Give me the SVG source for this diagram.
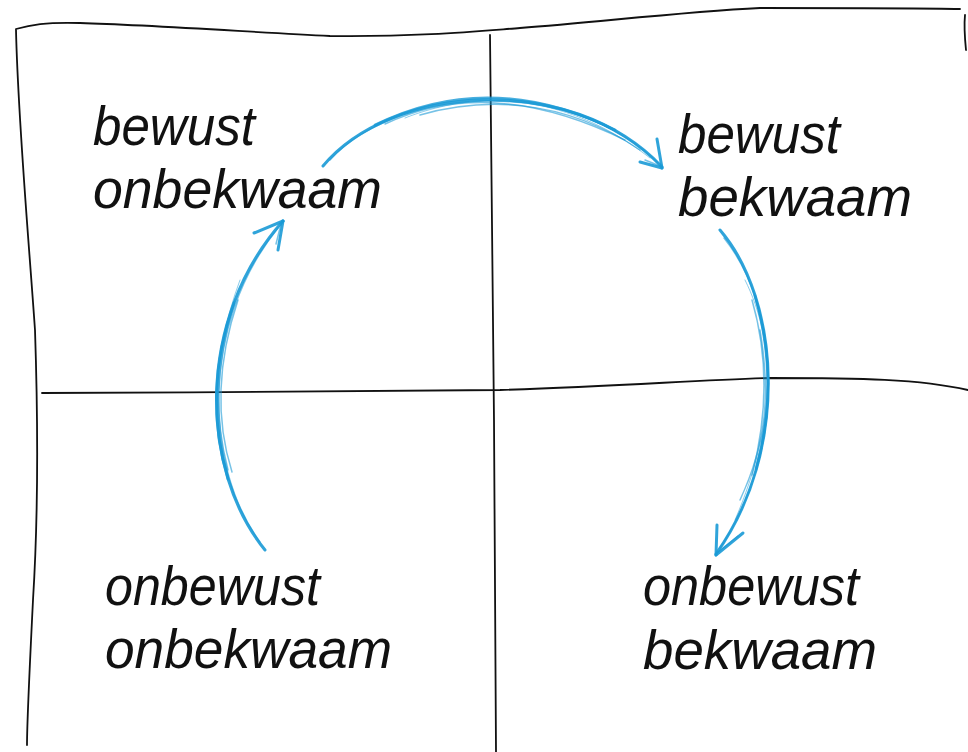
<svg xmlns="http://www.w3.org/2000/svg" width="968" height="752" viewBox="0 0 968 752">
<defs>
<style>
.grid{fill:none;stroke:#111;stroke-width:1.8;stroke-linecap:round}
.lbl{font-family:"Liberation Sans",Arial,sans-serif;font-size:56px;fill:#111;font-style:italic}
.arc{fill:none;stroke:#1a9ad6;stroke-linecap:round;stroke-linejoin:round}
.a1{stroke-width:3;opacity:0.9}
.a2{stroke-width:1.5;opacity:0.6}
.a3{stroke-width:1;opacity:0.5}
.a4{stroke-width:2.6;opacity:0.8}
</style>
</defs>
<rect width="968" height="752" fill="#fff"/>
<g id="grid">
<path class="grid" d="M16,29 C30,25 45,22 80,23 C150,25 250,32 330,36 C420,37 480,31 520,28 C600,22 680,12 760,8 C850,8 920,8 960,9"/>
<path class="grid" d="M16,30 C18,120 28,230 35,330 C38,420 38,520 33,600 C30,660 27,720 27,745"/>
<path class="grid" d="M490,35 C491,150 493,300 494,420 C495,560 496,680 496,752"/>
<path class="grid" d="M965,15 C964,25 965,40 966,50"/>
<path class="grid" d="M42,393 C200,392 400,392 500,390 C620,386 700,380 770,378 C860,378 920,379 968,390"/>
</g>
<g id="node-bewust-onbekwaam">
<text class="lbl" x="93" y="145" textLength="162" lengthAdjust="spacingAndGlyphs">bewust</text>
<text class="lbl" x="93" y="208" textLength="289" lengthAdjust="spacingAndGlyphs">onbekwaam</text>
</g>
<g id="node-bewust-bekwaam">
<text class="lbl" x="678" y="153" textLength="162" lengthAdjust="spacingAndGlyphs">bewust</text>
<text class="lbl" x="678" y="216" textLength="234" lengthAdjust="spacingAndGlyphs">bekwaam</text>
</g>
<g id="node-onbewust-onbekwaam">
<text class="lbl" x="105" y="605" textLength="215" lengthAdjust="spacingAndGlyphs">onbewust</text>
<text class="lbl" x="105" y="668" textLength="287" lengthAdjust="spacingAndGlyphs">onbekwaam</text>
</g>
<g id="node-onbewust-bekwaam">
<text class="lbl" x="643" y="605" textLength="216" lengthAdjust="spacingAndGlyphs">onbewust</text>
<text class="lbl" x="643" y="669" textLength="234" lengthAdjust="spacingAndGlyphs">bekwaam</text>
</g>
<g id="connectors">
<g id="arrow-top">
<path class="arc a1" d="M323,166 C390,85 570,70 662,167"/>
<path class="arc a2" d="M330,160 C395,88 568,74 658,163"/>
<path class="arc a4" d="M375,125 Q490,68 615,130"/>
<path class="arc a2" d="M385,124 Q490,74 625,140"/>
<path class="arc a3" d="M405,118 C470,92 560,88 650,158"/>
<path class="arc a2" d="M420,115 C480,98 560,96 640,150"/>
<path class="arc a1" d="M662,168 L657,139"/>
<path class="arc a1" d="M662,168 L640,162"/>
<path class="arc a2" d="M660,166 L645,160"/>
</g>
<g id="arrow-right">
<path class="arc a1" d="M720,230 C780,300 790,450 716,554"/>
<path class="arc a2" d="M724,238 C782,310 786,450 720,548"/>
<path class="arc a4" d="M755,296 Q780,383 756,469"/>
<path class="arc a2" d="M752,300 Q776,383 752,475"/>
<path class="arc a3" d="M745,280 C775,340 778,420 735,520"/>
<path class="arc a2" d="M760,330 C770,390 768,440 740,500"/>
<path class="arc a1" d="M716,555 L717,525"/>
<path class="arc a1" d="M716,555 L743,533"/>
<path class="arc a2" d="M718,552 L738,536"/>
</g>
<g id="arrow-left">
<path class="arc a1" d="M265,550 C200,470 195,320 283,221"/>
<path class="arc a2" d="M260,542 C204,465 200,325 278,228"/>
<path class="arc a4" d="M228,479 Q202,393 234,303"/>
<path class="arc a2" d="M232,472 Q207,393 238,300"/>
<path class="arc a3" d="M236,500 C212,440 210,360 240,280"/>
<path class="arc a2" d="M228,470 C215,420 214,370 235,300"/>
<path class="arc a1" d="M283,221 L254,233"/>
<path class="arc a1" d="M283,221 L278,250"/>
<path class="arc a2" d="M281,224 L276,244"/>
</g>
</g>
</svg>
